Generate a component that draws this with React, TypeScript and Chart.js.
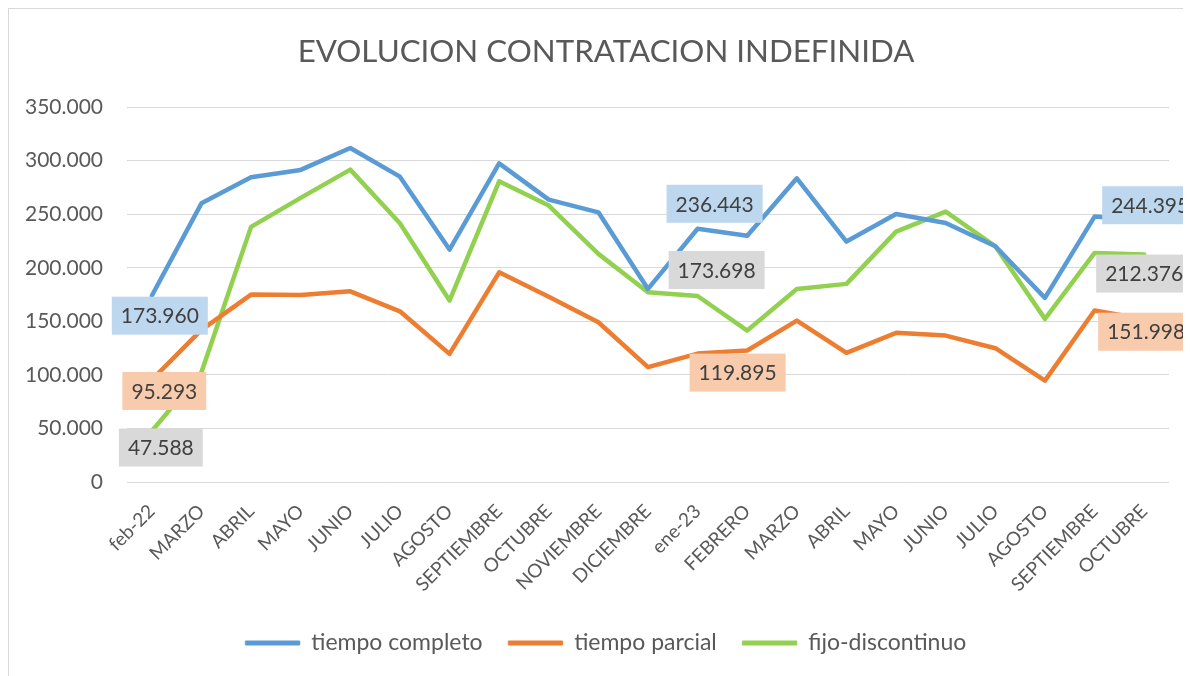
import React, { useEffect, useRef } from 'react';
import { Chart, registerables } from 'chart.js';

Chart.register(...registerables);

const categories = [
  'feb-22', 'MARZO', 'ABRIL', 'MAYO', 'JUNIO', 'JULIO', 'AGOSTO', 'SEPTIEMBRE', 'OCTUBRE',
  'NOVIEMBRE', 'DICIEMBRE', 'ene-23', 'FEBRERO', 'MARZO', 'ABRIL', 'MAYO', 'JUNIO', 'JULIO',
  'AGOSTO', 'SEPTIEMBRE', 'OCTUBRE',
];

const tiempoCompleto = [
  173960, 260200, 284500, 291400, 311900, 285100, 217000, 297500, 263700, 251800, 180300,
  236443, 230000, 283600, 224500, 250300, 241900, 220100, 171900, 247800, 244395,
];

const tiempoParcial = [
  95293, 142000, 175000, 174700, 178000, 159400, 119600, 195800, 173000, 149200, 107200,
  119895, 122800, 150700, 120600, 139300, 136700, 124900, 94700, 160100, 151998,
];

const fijoDiscontinuo = [
  47588, 102500, 238200, 265300, 291700, 241600, 169400, 280800, 258100, 213000, 177200,
  173698, 141400, 180300, 185000, 233800, 252500, 220100, 152300, 213900, 212376,
];

const seriesNames = ['tiempo completo', 'tiempo parcial', 'fijo-discontinuo'];
const yMin = 0;
const yMax = 350000;
const yStep = 50000;
const labeledIndices = [0, 11, 20];

// styling (not data)
const LINE_COLORS = ['#5B9BD5', '#ED7D31', '#92D050'];
const LABEL_FILLS = ['#BDD7EE', '#F8CBAD', '#D9D9D9'];
// label box centre offsets from the point, per series, per labelled index
const LABEL_OFFSETS: number[][][] = [
  [[8, 20], [17, -25], [6, -15]],
  [[12.5, 11], [40, 19], [2, 12.5]],
  [[9, 16.5], [19, -26], [0, 19]],
];
const FONT = 'Lato, "Open Sans", sans-serif';
const TEXT = '#595959';

function fmt(v: number): string {
  return Math.round(v).toString().replace(/\B(?=(\d{3})+(?!\d))/g, '.');
}

const boxLabelPlugin = {
  id: 'boxLabels',
  afterDatasetsDraw(chart: any) {
    const ctx = chart.ctx as CanvasRenderingContext2D;
    ctx.save();
    ctx.font = `21px ${FONT}`;
    ctx.textAlign = 'center';
    ctx.textBaseline = 'middle';
    chart.data.datasets.forEach((ds: any, di: number) => {
      const meta = chart.getDatasetMeta(di);
      labeledIndices.forEach((idx, k) => {
        const pt = meta.data[idx];
        if (!pt) return;
        const [dx, dy] = LABEL_OFFSETS[di][k];
        const text = fmt(ds.data[idx]);
        const w = ctx.measureText(text).width + 18;
        const h = 38;
        const cx = pt.x + dx;
        const cy = pt.y + dy;
        ctx.fillStyle = LABEL_FILLS[di];
        ctx.fillRect(cx - w / 2, cy - h / 2, w, h);
        ctx.fillStyle = '#404040';
        ctx.fillText(text, cx, cy + 1);
      });
    });
    ctx.restore();
  },
};

export default function App() {
  const ref = useRef<HTMLCanvasElement | null>(null);

  useEffect(() => {
    if (!ref.current) return;
    const seriesData = [tiempoCompleto, tiempoParcial, fijoDiscontinuo];
    const chart = new Chart(ref.current, {
      type: 'line',
      data: {
        labels: categories,
        datasets: seriesData.map((d, i) => ({
          label: seriesNames[i],
          data: d,
          yAxisID: 'y',
          borderColor: LINE_COLORS[i],
          backgroundColor: LINE_COLORS[i],
          borderWidth: 4.5,
          borderJoinStyle: 'round' as const,
          borderCapStyle: 'round' as const,
          pointRadius: 0,
          pointHoverRadius: 0,
          tension: 0,
          fill: false,
        })),
      },
      options: {
        animation: false,
        responsive: false,
        events: [],
        layout: { padding: { left: 0, right: 16, top: 0, bottom: 24.5 } },
        plugins: {
          title: {
            display: true,
            text: 'EVOLUCION CONTRATACION INDEFINIDA',
            color: TEXT,
            font: { family: FONT, size: 31.3, weight: 'normal' },
            padding: { top: 24.2, bottom: 36.4 },
          },
          legend: {
            position: 'bottom',
            labels: {
              boxWidth: 54,
              boxHeight: 4,
              color: TEXT,
              font: { family: FONT, size: 23 },
              padding: 26,
              generateLabels: (c: any) =>
                Chart.defaults.plugins.legend.labels.generateLabels(c).map((l: any) => ({
                  ...l,
                  lineWidth: 1,
                  fillStyle: l.strokeStyle,
                })),
            },
          },
          tooltip: { enabled: false },
        },
        scales: {
          x: {
            offset: true,
            grid: { display: false, drawTicks: false },
            border: { display: false },
            ticks: {
              autoSkip: false,
              maxRotation: 45,
              minRotation: 45,
              padding: 18,
              color: TEXT,
              font: { family: FONT, size: 19 },
            },
            afterFit: (s: any) => {
              s.height = 123.5;
            },
          },
          y: {
            min: yMin,
            max: yMax,
            grid: { color: '#D9D9D9', lineWidth: 1, drawTicks: false },
            border: { display: false },
            ticks: {
              stepSize: yStep,
              padding: 24,
              color: TEXT,
              font: { family: FONT, size: 21 },
              callback: (v: any) => fmt(Number(v)),
            },
            afterFit: (s: any) => {
              s.width = 118;
            },
          },
          spacer: {
            type: 'linear',
            position: 'right',
            display: true,
            grid: { display: false, drawTicks: false },
            border: { display: false },
            ticks: { display: false },
            afterFit: (s: any) => {
              s.width = 34;
            },
          },
        },
      },
      plugins: [boxLabelPlugin],
    });
    return () => chart.destroy();
  }, []);

  return (
    <div
      style={{
        position: 'relative',
        width: 1183,
        height: 668,
        overflow: 'hidden',
        borderLeft: '1px solid #D9D9D9',
        borderTop: '1px solid #D9D9D9',
        boxSizing: 'border-box',
        background: '#fff',
      }}
    >
      <canvas ref={ref} width={1210} height={680} style={{ display: 'block' }} />
    </div>
  );
}
